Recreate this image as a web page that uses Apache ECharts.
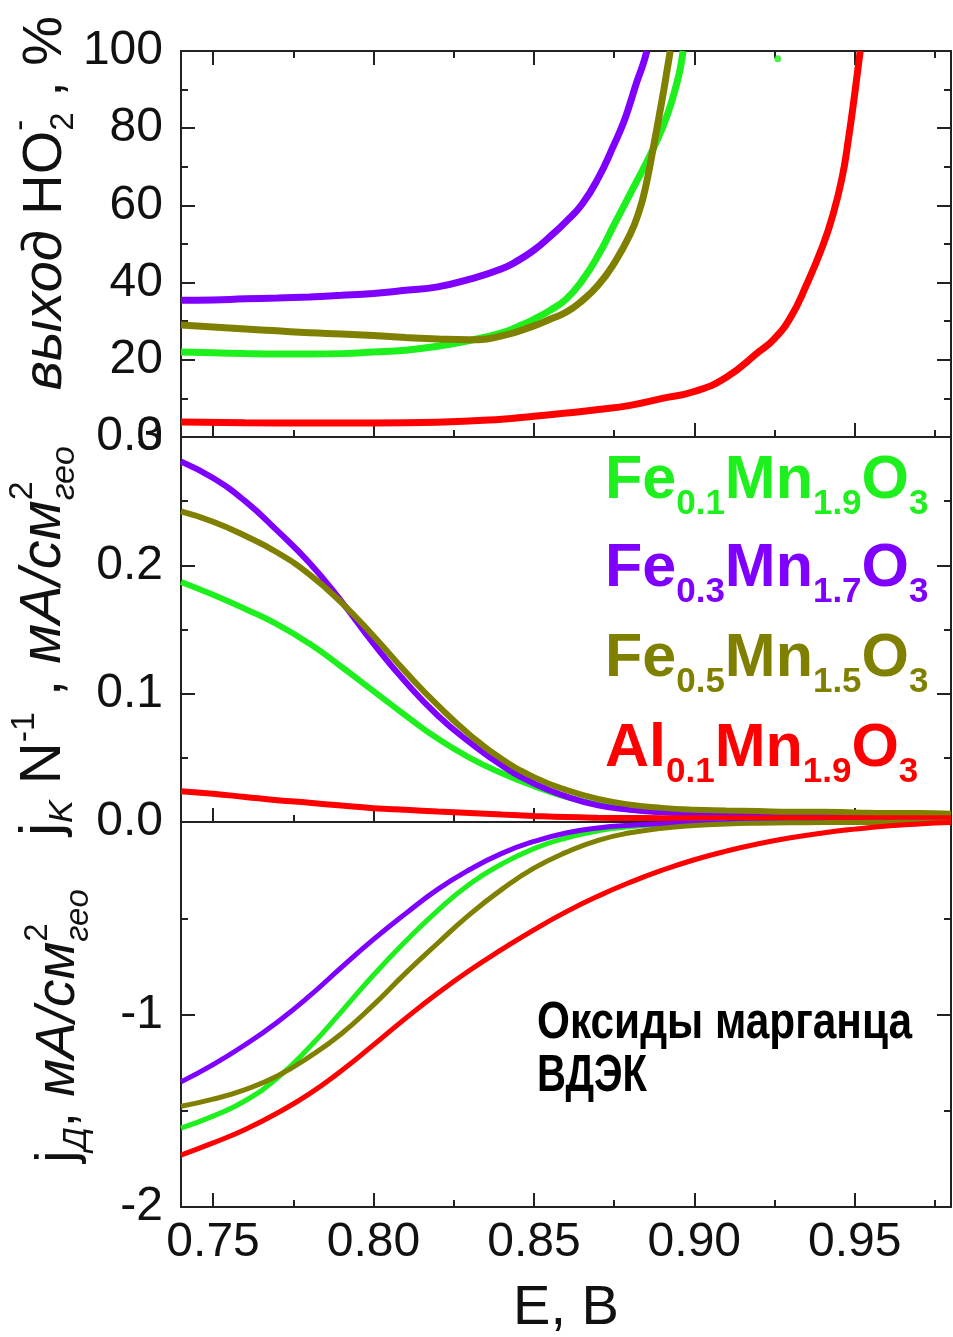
<!DOCTYPE html>
<html><head><meta charset="utf-8">
<script src="https://cdn.jsdelivr.net/npm/echarts@6/dist/echarts.min.js"></script>
<style>html,body{margin:0;padding:0;background:#fff}#c{width:953px;height:1337px}</style>
</head><body><div id="c"></div>
<script>
// ---------- DATA ----------
const seriesNames = ['Fe0.1Mn1.9O3', 'Fe0.3Mn1.7O3', 'Fe0.5Mn1.5O3', 'Al0.1Mn1.9O3'];
const xTickLabels = ['0.75', '0.80', '0.85', '0.90', '0.95'];

// Top panel: HO2- yield, %
const E_top_green  = [0.74,0.75,0.76,0.77,0.78,0.79,0.80,0.81,0.82,0.83,0.84,0.845,0.85,0.855,0.86,0.865,0.87,0.875,0.88,0.885,0.889,0.892,0.894,0.8955,0.8965];
const y_top_green  = [22,21.8,21.6,21.5,21.5,21.6,22,22.5,23.5,25,27,28.6,30.5,32.8,35.7,40.5,47,55,63,71,78,84.5,90,95,100];
const E_top_purple = [0.74,0.75,0.76,0.77,0.78,0.79,0.80,0.81,0.82,0.83,0.84,0.845,0.85,0.855,0.86,0.865,0.87,0.875,0.878,0.88,0.882,0.884,0.8852];
const y_top_purple = [35.4,35.5,35.8,36.0,36.3,36.7,37.2,38,38.9,40.9,43.6,45.7,48.4,51.9,55.8,60.3,67,75.8,81.6,86.5,91.8,96.5,100];
const E_top_olive  = [0.74,0.75,0.76,0.77,0.78,0.79,0.80,0.81,0.82,0.83,0.84,0.85,0.855,0.86,0.865,0.87,0.875,0.88,0.883,0.885,0.887,0.889,0.8905,0.8915,0.8925];
const y_top_olive  = [29,28.5,28,27.5,27,26.7,26.3,25.8,25.4,25.2,26.2,28.8,30.5,32.3,35.3,39.3,45,52.5,59,65.5,74,83,90,95,100];
const E_top_red    = [0.74,0.76,0.78,0.80,0.82,0.84,0.85,0.86,0.87,0.88,0.89,0.90,0.91,0.92,0.925,0.93,0.935,0.94,0.943,0.946,0.948,0.95,0.9517];
const y_top_red    = [3.9,3.7,3.6,3.6,3.8,4.6,5.4,6.2,7.1,8.2,10,11.8,15.5,22,25.5,31,39.5,49.5,57,67,77,89,100];
const E_top_stray  = [0.926];
const y_top_stray  = [98];

// Middle & bottom panels share this potential grid
const E_grid = [0.74,0.75,0.76,0.77,0.78,0.79,0.80,0.81,0.82,0.83,0.84,0.85,0.86,0.87,0.88,0.89,0.90,0.91,0.92,0.93,0.94,0.95,0.96,0.97,0.98];

// Middle panel: jK N^-1, mA/cm2
const jk_green  = [0.187,0.177,0.166,0.154,0.139,0.121,0.102,0.083,0.065,0.050,0.038,0.028,0.0195,0.0135,0.0098,0.0082,0.0072,0.0066,0.0064,0.0062,0.006,0.006,0.006,0.0058,0.0058];
const jk_purple = [0.281,0.268,0.250,0.227,0.202,0.172,0.139,0.109,0.083,0.062,0.044,0.030,0.020,0.013,0.0095,0.0075,0.0065,0.006,0.0055,0.005,0.005,0.005,0.005,0.005,0.005];
const jk_olive  = [0.242,0.234,0.223,0.210,0.193,0.171,0.145,0.117,0.091,0.068,0.049,0.035,0.025,0.018,0.0135,0.011,0.0096,0.009,0.0085,0.008,0.008,0.0075,0.007,0.007,0.0065];
const jk_red    = [0.024,0.022,0.0195,0.017,0.015,0.0128,0.0108,0.0095,0.0082,0.007,0.0058,0.0047,0.0038,0.0033,0.0031,0.003,0.003,0.003,0.003,0.003,0.003,0.003,0.003,0.003,0.003];

// Bottom panel: jD, mA/cm2
const jd_green  = [-1.59,-1.528,-1.448,-1.33,-1.17,-0.985,-0.795,-0.62,-0.46,-0.322,-0.218,-0.138,-0.083,-0.046,-0.025,-0.013,-0.007,-0.004,-0.003,-0.002,-0.002,-0.002,-0.001,-0.001,-0.001];
const jd_purple = [-1.35,-1.26,-1.157,-1.04,-0.905,-0.755,-0.61,-0.476,-0.35,-0.247,-0.163,-0.101,-0.057,-0.031,-0.017,-0.009,-0.005,-0.003,-0.002,-0.002,-0.001,-0.001,-0.001,-0.001,-0.001];
const jd_olive  = [-1.477,-1.44,-1.39,-1.32,-1.22,-1.10,-0.95,-0.785,-0.63,-0.48,-0.35,-0.24,-0.158,-0.095,-0.056,-0.032,-0.018,-0.01,-0.006,-0.004,-0.003,-0.002,-0.002,-0.001,-0.001];
const jd_red    = [-1.73,-1.667,-1.597,-1.512,-1.412,-1.292,-1.158,-1.02,-0.89,-0.77,-0.662,-0.56,-0.467,-0.385,-0.313,-0.25,-0.196,-0.151,-0.113,-0.082,-0.057,-0.037,-0.021,-0.01,-0.003];

// ---------- STYLE ----------
const C = {green:'#1ef01e', purple:'#7f00ff', olive:'#808000', red:'#ff0000'};
const FAM = '"Liberation Sans", Arial, sans-serif';
const AX = '#222';

const pairs = (xs, ys) => xs.map((x, i) => [x, ys[i]]);

function mkX(gi, pos, labels) {
  return {
    type:'value', gridIndex:gi, position:pos, min:0.74, max:0.98, splitNumber:5,
    axisLine:{show:true, onZero:false, lineStyle:{color:AX, width:2}},
    axisTick:{show:true, inside:true, length:14, lineStyle:{color:AX, width:2}},
    minorTick:{show:true, splitNumber:2, length:7, lineStyle:{color:AX, width:2}},
    splitLine:{show:false},
    axisLabel:{show:labels, margin:12, fontSize:48, color:'#111', fontFamily:FAM,
      showMinLabel:false, showMaxLabel:false,
      formatter: v => { const k = Math.round(v*20); return Math.abs(v*20-k) < 1e-6 ? xTickLabels[k-15] || '' : ''; }},
    name: labels ? 'E, B' : '', nameLocation:'middle', nameGap:74,
    nameTextStyle:{fontSize:56, color:'#111', fontFamily:FAM}
  };
}
function mkY(gi, pos, min, max, interval, labelFmt, hideMax) {
  return {
    type:'value', gridIndex:gi, position:pos, min:min, max:max, interval:interval,
    axisLine:{show:true, onZero:false, lineStyle:{color:AX, width:2}},
    axisTick:{show:true, inside:true, length:14, lineStyle:{color:AX, width:2}},
    minorTick:{show:true, splitNumber:2, length:7, lineStyle:{color:AX, width:2}},
    splitLine:{show:false},
    axisLabel:{show: !!labelFmt, margin:18, fontSize:48, color:'#111', fontFamily:FAM,
      showMaxLabel: !hideMax, formatter: labelFmt || undefined}
  };
}
function line(name, xi, yi, data, color, w) {
  return {name, type:'line', xAxisIndex:xi, yAxisIndex:yi, data, symbol:'none',
    smooth:0.5, clip:true,
    lineStyle:{color, width:w}, itemStyle:{color}, z:3};
}

// ---------- TEXT HELPERS ----------
const mctx = document.createElement('canvas').getContext('2d');
function mkFont(s){ return (s.italic?'italic ':'') + (s.bold?'bold ':'') + s.size + 'px ' + s.family; }
function runs(segs, base) {
  let x = 0; const kids = [];
  segs.forEach(sg => {
    const s = Object.assign({}, base, sg);
    const f = mkFont(s); mctx.font = f;
    const w = mctx.measureText(s.t).width;
    kids.push({type:'text', x:x, y:(s.dy||0) - 0.31*s.size,
      style:{text:s.t, font:f, fill:s.color, textAlign:'left', textVerticalAlign:'middle'}});
    if (!s.noAdvance) x += w;
  });
  return {kids, width:x};
}
function textGroup(segs, base, x, y, rot, center, targetWidth) {
  const r = runs(segs, base);
  if (center) r.kids.forEach(k => k.x -= r.width/2);
  const g = {type:'group', x, y, rotation: rot || 0, children:r.kids, z:10};
  if (targetWidth) g.scaleX = targetWidth / r.width;
  return g;
}
function formula(parts, color, x, y) {
  const segs = [];
  parts.forEach(p => { segs.push({t:p[0]}); if (p[1]) segs.push({t:p[1], size:35, dy:15}); });
  return textGroup(segs, {family:FAM, bold:true, size:61, color}, x, y);
}

const titleBase = {family:FAM, size:56, color:'#111'};
const noteBase = {family:FAM, bold:true, size:52, color:'#000'};
const graphics = [
  // y-axis titles (rotated)
  textGroup([
    {t:'выход', italic:true}, {t:' HO'}, {t:'-', size:33, dy:-32, noAdvance:true},
    {t:'2', size:33, dy:11}, {t:' , %'}
  ], titleBase, 63, 203, Math.PI/2, true),
  textGroup([
    {t:'j'}, {t:'K', size:34, dy:11, italic:true}, {t:' N'}, {t:'-1', size:34, dy:-27},
    {t:' , '}, {t:'мА/см', italic:true}, {t:'2', size:34, dy:-29, noAdvance:true},
    {t:'гео', size:34, dy:13, italic:true}
  ], Object.assign({}, titleBase, {size:58}), 62, 641, Math.PI/2, true),
  textGroup([
    {t:'j'}, {t:'Д', size:33, dy:11, italic:true}, {t:', '}, {t:'мА/см', italic:true},
    {t:'2', size:33, dy:-28, noAdvance:true}, {t:'гео', size:33, dy:13, italic:true}
  ], Object.assign({}, titleBase, {size:55}), 76, 1026, Math.PI/2, true),
  // legend-like labels
  formula([['Fe','0.1'],['Mn','1.9'],['O','3']], C.green, 605, 500),
  formula([['Fe','0.3'],['Mn','1.7'],['O','3']], C.purple, 605, 588),
  formula([['Fe','0.5'],['Mn','1.5'],['O','3']], C.olive, 605, 678),
  formula([['Al','0.1'],['Mn','1.9'],['O','3']], C.red, 605, 768),
  // annotation
  textGroup([{t:'Оксиды марганца'}], noteBase, 537, 1040, 0, false, 375),
  textGroup([{t:'ВДЭК'}], noteBase, 537, 1093, 0, false, 110)
];

const option = {
  animation:false,
  backgroundColor:'#fff',
  grid:[
    {left:181, right:2, top:51, height:386, outerBoundsMode:'none'},
    {left:181, right:2, top:437, height:385, outerBoundsMode:'none'},
    {left:181, right:2, top:822, height:385, outerBoundsMode:'none'}
  ],
  xAxis:[ mkX(0,'bottom',false), mkX(0,'top',false), mkX(1,'bottom',false), mkX(2,'bottom',true) ],
  yAxis:[
    mkY(0,'left',0,100,20, v => String(v)),
    mkY(0,'right',0,100,20, null),
    mkY(1,'left',0,0.3,0.1, v => v.toFixed(1)),
    mkY(1,'right',0,0.3,0.1, null),
    mkY(2,'left',-2,0,1, v => String(v), true),
    mkY(2,'right',-2,0,1, null)
  ],
  series:[
    line(seriesNames[0], 0, 0, pairs(E_top_green, y_top_green), C.green, 7),
    line(seriesNames[1], 0, 0, pairs(E_top_purple, y_top_purple), C.purple, 7),
    line(seriesNames[2], 0, 0, pairs(E_top_olive, y_top_olive), C.olive, 7),
    line(seriesNames[3], 0, 0, pairs(E_top_red, y_top_red), C.red, 7),
    {type:'scatter', xAxisIndex:0, yAxisIndex:0, data:pairs(E_top_stray, y_top_stray), symbolSize:7, itemStyle:{color:C.green}},
    line(seriesNames[0], 2, 2, pairs(E_grid, jk_green), C.green, 6),
    line(seriesNames[1], 2, 2, pairs(E_grid, jk_purple), C.purple, 6),
    line(seriesNames[2], 2, 2, pairs(E_grid, jk_olive), C.olive, 6),
    line(seriesNames[3], 2, 2, pairs(E_grid, jk_red), C.red, 6),
    line(seriesNames[0], 3, 4, pairs(E_grid, jd_green), C.green, 5),
    line(seriesNames[1], 3, 4, pairs(E_grid, jd_purple), C.purple, 5),
    line(seriesNames[2], 3, 4, pairs(E_grid, jd_olive), C.olive, 5),
    line(seriesNames[3], 3, 4, pairs(E_grid, jd_red), C.red, 5)
  ],
  graphic: graphics
};
const chart = echarts.init(document.getElementById('c'), null, {renderer:'canvas'});
chart.setOption(option);
</script>
</body></html>
